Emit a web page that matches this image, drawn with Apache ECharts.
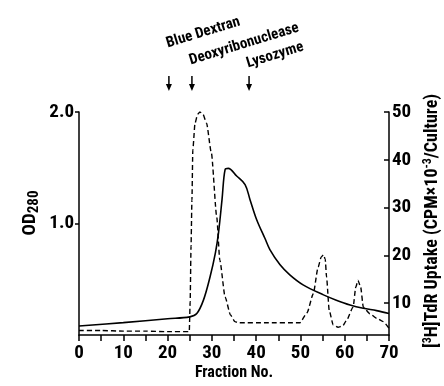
<!DOCTYPE html>
<html>
<head>
<meta charset="utf-8">
<script src="https://cdn.jsdelivr.net/npm/echarts@6/dist/echarts.min.js"></script>
<style>
  html, body { margin: 0; padding: 0; background: #fff; }
  #chart { width: 444px; height: 386px; }
</style>
</head>
<body>
<div id="chart"></div>
<script>
// OD280 (dashed, left axis)
const odFraction = [0, 5, 10, 15, 20, 24.9, 25.1, 25.3, 25.5, 25.7, 26.2, 26.8, 27.3, 28.0, 28.8, 29.9, 31.1, 31.8, 33.0, 34.2, 35.2, 36, 42, 49.9, 51.5, 52.9, 54.0, 54.7, 55.2, 55.6, 55.9, 56.5, 57.4, 58.5, 59.5, 60.4, 61.9, 62.5, 63.0, 63.6, 64.2, 65.7, 67.2, 68.7, 70];
const odValue = [0.04, 0.04, 0.035, 0.035, 0.03, 0.03, 0.3, 0.8, 1.21, 1.66, 1.90, 1.98, 2.0, 1.98, 1.90, 1.63, 1.06, 0.67, 0.34, 0.18, 0.12, 0.11, 0.11, 0.11, 0.2, 0.37, 0.61, 0.70, 0.72, 0.68, 0.52, 0.22, 0.09, 0.07, 0.08, 0.13, 0.25, 0.43, 0.49, 0.43, 0.25, 0.19, 0.15, 0.12, 0.06];

// [3H]TdR uptake, CPM x 10^-3 / culture (solid, right axis)
const uptakeFraction = [0, 10, 20, 25, 26.6, 28.1, 29.6, 30.8, 31.5, 32.3, 33.0, 33.7, 35.6, 37.5, 38.6, 40.1, 42.0, 43.1, 45.4, 47.6, 50.6, 55.2, 58.1, 61.2, 64.2, 67.2, 70];
const uptakeValue = [5.2, 5.9, 6.7, 7.1, 7.8, 10.6, 15.5, 20.5, 24.7, 31.7, 38.0, 38.2, 36.6, 34.8, 31.7, 27.5, 23.5, 21.2, 18.0, 15.9, 13.8, 11.7, 10.6, 9.6, 8.9, 8.4, 7.8];

const odTicks = [1, 2];
const uptakeTicks = [10, 20, 30, 40, 50];

// marker proteins (elution position, fraction no.)
const markerNames = ["Blue Dextran", "Deoxyribonuclease", "Lysozyme"];
const markerFraction = [20.3, 25.5, 38.4];

const FONT = '"Roboto Condensed", "Liberation Sans Narrow", sans-serif';
const INK = "#000";

const zip = (xs, ys) => xs.map((x, i) => [x, ys[i]]);

const chart = echarts.init(document.getElementById("chart"), null, { renderer: "canvas" });

const axisBase = {
  axisLine: { show: true, onZero: false, lineStyle: { color: INK, width: 1.5 } },
  splitLine: { show: false },
};
const tickFont = { color: INK, fontFamily: FONT, fontWeight: "bold", fontSize: 19 };

// one hidden top axis per marker name, so the slanted label sits on the fraction scale
const labelOffset = [61, 44, 41];
const markerAxes = markerNames.map((name, i) => ({
  type: "value",
  position: "top",
  min: 0,
  max: 70,
  offset: labelOffset[i],
  axisLine: { show: false, onZero: false },
  axisTick: { show: false },
  splitLine: { show: false },
  axisLabel: {
    customValues: [markerFraction[i]],
    formatter: () => name,
    rotate: -17,
    margin: 0,
    align: "left",
    verticalAlign: "bottom",
    color: INK, fontFamily: FONT, fontWeight: "bold", fontSize: 15,
  },
}));

chart.setOption({
  animation: false,
  backgroundColor: "#fff",
  grid: { left: 79, right: 55, top: 112, bottom: 51 },
  xAxis: [
    {
      type: "value",
      min: 0,
      max: 70,
      interval: 5,
      ...axisBase,
      axisTick: { show: true, length: 6, lineStyle: { color: INK, width: 1.5 } },
      axisLabel: {
        ...tickFont, margin: 9,
        formatter: (v) => (v % 10 === 0 ? String(v) : ""),
      },
    },
    ...markerAxes,
  ],
  yAxis: [
    {
      type: "value",
      min: 0,
      max: 2,
      position: "left",
      ...axisBase,
      axisTick: { show: true, length: 4, customValues: odTicks, lineStyle: { color: INK, width: 1.5 } },
      axisLabel: { ...tickFont, margin: 5, customValues: odTicks, formatter: (v) => v.toFixed(1) },
    },
    {
      type: "value",
      min: 3.3,
      max: 50,
      position: "right",
      ...axisBase,
      axisTick: { show: true, inside: true, length: 5, customValues: uptakeTicks, lineStyle: { color: INK, width: 1.5 } },
      axisLabel: { ...tickFont, margin: 3, customValues: uptakeTicks },
    },
  ],
  series: [
    {
      name: "OD280",
      type: "line",
      yAxisIndex: 0,
      data: zip(odFraction, odValue),
      showSymbol: false,
      smooth: 0.2,
      smoothMonotone: "x",
      lineStyle: { color: INK, width: 1.4, type: [5, 3] },
    },
    {
      name: "Uptake",
      type: "line",
      yAxisIndex: 1,
      data: zip(uptakeFraction, uptakeValue),
      showSymbol: false,
      smooth: 0.35,
      lineStyle: { color: INK, width: 1.6 },
    },
  ],
});

// arrows + axis titles
const graphics = [];
markerFraction.forEach((f) => {
  const px = chart.convertToPixel({ xAxisIndex: 0 }, f);
  graphics.push(
    { type: "line", shape: { x1: px, y1: 76, x2: px, y2: 86 }, style: { stroke: INK, lineWidth: 1.5 } },
    { type: "polygon", shape: { points: [[px - 3, 84], [px + 3, 84], [px, 91]] }, style: { fill: INK } }
  );
});
graphics.push({
  type: "text", x: 30, y: 213, rotation: Math.PI / 2,
  style: {
    text: "{a|OD}{b|280}", align: "center", verticalAlign: "middle",
    rich: {
      a: { fontFamily: FONT, fontWeight: "bold", fontSize: 19, fill: INK, lineHeight: 22 },
      b: { fontFamily: FONT, fontWeight: "bold", fontSize: 15, fill: INK, lineHeight: 22, padding: [8, 0, 0, 0] },
    },
  },
});
graphics.push({
  type: "text", x: 432, y: 221, rotation: Math.PI / 2,
  style: {
    text: "{a|[}{s|3}{a|H]TdR Uptake (CPM×10}{s|-3}{a|/Culture)}", align: "center", verticalAlign: "middle",
    rich: {
      a: { fontFamily: FONT, fontWeight: "bold", fontSize: 18, fill: INK, lineHeight: 20 },
      s: { fontFamily: FONT, fontWeight: "bold", fontSize: 12, fill: INK, lineHeight: 20, padding: [0, 0, 8, 0] },
    },
  },
});
graphics.push({
  type: "text", x: 234, y: 373,
  style: { text: "Fraction No.", fill: INK, font: `bold 16px ${FONT}`, align: "center", verticalAlign: "middle" },
});
chart.setOption({ graphic: graphics });
</script>
</body>
</html>
